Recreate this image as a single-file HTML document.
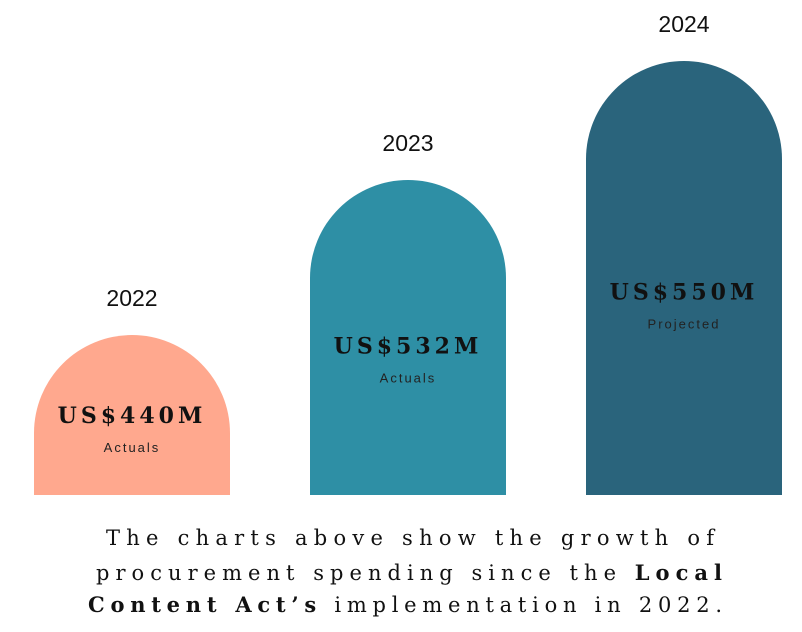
<!DOCTYPE html>
<html><head><meta charset="utf-8"><style>
html,body{margin:0;padding:0;background:#fff;}
svg{display:block;}
</style></head><body>
<svg id="chart" width="802" height="632" viewBox="0 0 802 632">
  <g id="bars"></g>
  <g font-family="'DejaVu Serif','Liberation Serif',serif" font-size="21" fill="#111">
    <text x="410" y="545" text-anchor="middle" textLength="608" lengthAdjust="spacing">The charts above show the growth of</text>
    <text x="409" y="580" text-anchor="middle" textLength="626" lengthAdjust="spacing">procurement spending since the <tspan font-weight="bold">Local</tspan></text>
    <text x="405" y="612" text-anchor="middle" textLength="634" lengthAdjust="spacing"><tspan font-weight="bold">Content Act’s</tspan> implementation in 2022.</text>
  </g>
</svg>
<script>
const years = ["2022", "2023", "2024"];
const values = [440, 532, 550];
const valueLabels = ["US$440M", "US$532M", "US$550M"];
const statusLabels = ["Actuals", "Actuals", "Projected"];
const colors = ["#FFA88E", "#2E8FA5", "#2A647C"];

const baseY = 495, barW = 196;
// piecewise-linear value -> height scale
const dom = [440, 532, 550], rng = [160, 315, 434];
function yHeight(v){
  if (v <= dom[0]) return rng[0] + (v - dom[0]) * (rng[1]-rng[0])/(dom[1]-dom[0]);
  for (let i=0;i<dom.length-1;i++){
    if (v <= dom[i+1]) return rng[i] + (v-dom[i])*(rng[i+1]-rng[i])/(dom[i+1]-dom[i]);
  }
  const n=dom.length-1;
  return rng[n] + (v-dom[n])*(rng[n]-rng[n-1])/(dom[n]-dom[n-1]);
}
function xPos(i){ return 34 + i * 276; }

const NS = "http://www.w3.org/2000/svg";
const g = document.getElementById("bars");
function mk(tag, attrs){ const e=document.createElementNS(NS,tag); for(const k in attrs) e.setAttribute(k,attrs[k]); return e; }

years.forEach((yr, i) => {
  const h = yHeight(values[i]);
  const x = xPos(i), top = baseY - h, r = barW/2, cx = x + r;
  const p = mk("path", {d:`M${x},${baseY} L${x},${top+r} A${r},${r} 0 0 1 ${x+barW},${top+r} L${x+barW},${baseY} Z`, fill: colors[i]});
  
  
  g.appendChild(p);

  const yl = mk("text", {x: cx, y: top - 29, "text-anchor":"middle", "font-family":"'Liberation Sans',sans-serif", "font-size":"23", fill:"#111"});
  yl.textContent = yr;
  
  
  g.appendChild(yl);

  const vy = top + h*0.55;
  const vl = mk("text", {x: cx, y: vy, "text-anchor":"middle", "font-family":"'DejaVu Serif',serif", "font-weight":"bold", "font-size":"22", "letter-spacing":"4", fill:"#111"});
  vl.textContent = valueLabels[i];
  
  
  g.appendChild(vl);

  const sl = mk("text", {x: cx, y: vy + 29, "text-anchor":"middle", "font-family":"'Liberation Sans',sans-serif", "font-size":"13", "letter-spacing":"2", fill:"#222"});
  sl.textContent = statusLabels[i];
  
  
  g.appendChild(sl);
});
</script>
</body></html>
